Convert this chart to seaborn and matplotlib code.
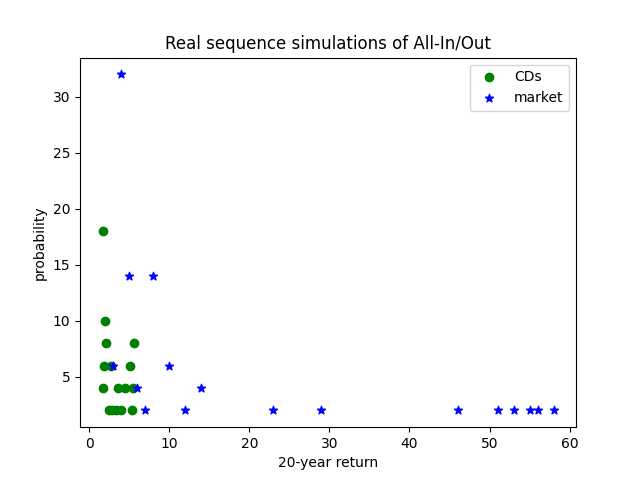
import numpy as np
import pandas as pd
import seaborn as sns
import matplotlib
matplotlib.use('Agg')
import matplotlib.pyplot as plt

# values
cd_return = [1.75, 2.0, 2.1, 5.65, 1.85, 2.7, 5.1, 1.75, 3.6, 4.5, 5.5, 2.45, 2.9, 3.4, 4.0, 5.4]
cd_prob = [18, 10, 8, 8, 6, 6, 6, 4, 4, 4, 4, 2, 2, 2, 2, 2]

mkt_return = [4, 5, 8, 3, 10, 6, 14, 7, 12, 23, 29, 46, 51, 53, 55, 56, 58]
mkt_prob = [32, 14, 14, 6, 6, 4, 4, 2, 2, 2, 2, 2, 2, 2, 2, 2, 2]

cds = pd.DataFrame({'ret': cd_return, 'prob': cd_prob})
mkt = pd.DataFrame({'ret': mkt_return, 'prob': mkt_prob})

fig, ax = plt.subplots(figsize=(6.4, 4.8), dpi=100)
sns.scatterplot(data=cds, x='ret', y='prob', marker='o', color='green',
                s=36, edgecolor='green', linewidth=1, label='CDs', ax=ax)
sns.scatterplot(data=mkt, x='ret', y='prob', marker='*', color='blue',
                s=36, edgecolor='blue', linewidth=1, label='market', ax=ax)

ax.set_xlim(-1.15, 60.8)
ax.set_ylim(0.5, 33.5)
ax.set_xticks([0, 10, 20, 30, 40, 50, 60])
ax.set_yticks([5, 10, 15, 20, 25, 30])
ax.set_xlabel('20-year return')
ax.set_ylabel('probability')
ax.set_title('Real sequence simulations of All-In/Out')
ax.legend(loc='upper right')

plt.savefig('out.png', dpi=100)
